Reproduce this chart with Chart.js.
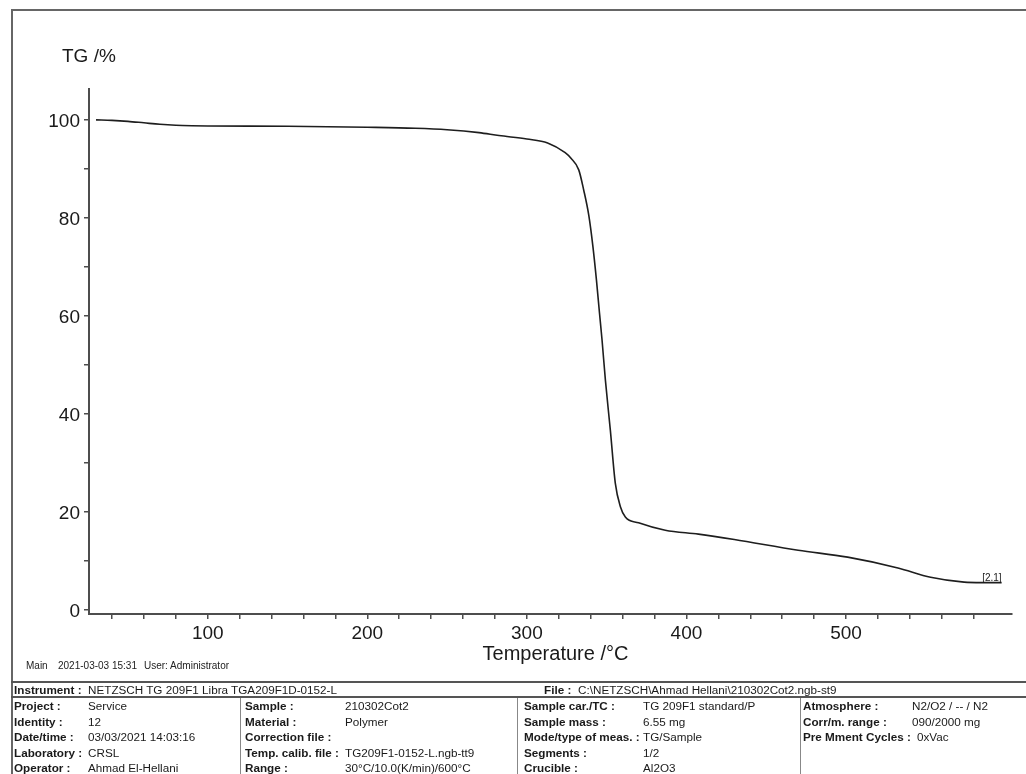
<!DOCTYPE html>
<html>
<head>
<meta charset="utf-8">
<script src="https://cdn.jsdelivr.net/npm/chart.js@4.4.0/dist/chart.umd.min.js"></script>
<style>
  html, body { margin: 0; padding: 0; background: #fff; }
  body { width: 1026px; height: 774px; position: relative; overflow: hidden;
         font-family: "Liberation Sans", Arial, sans-serif; color: #1a1a1a; }
  #tgChart { position: absolute; left: 0; top: 0; }
  .frame { position: absolute; left: 11px; top: 9px; width: 1030px; height: 780px;
           border-left: 2px solid #666; border-top: 2px solid #666; }
  .hline { position: absolute; left: 11px; width: 1015px; height: 2px; background: #555; }
  .vline { position: absolute; top: 698px; width: 1px; height: 76px; background: #888; }
  .txt { position: absolute; font-size: 11.7px; line-height: 14px; white-space: pre; }
  .lbl { font-weight: bold; }
  .footer { position: absolute; top: 660px; font-size: 10px; line-height: 12px; white-space: pre; color: #222; }
</style>
</head>
<body>
<canvas id="tgChart" width="1026" height="774"></canvas>
<div class="frame"></div>
<div class="hline" style="top:681px"></div>
<div class="hline" style="top:696px"></div>
<div class="vline" style="left:240px"></div>
<div class="vline" style="left:517px"></div>
<div class="vline" style="left:800px"></div>
<div id="meta"></div>
<script>
// TG curve
const temps = [30, 40, 50, 60, 70, 80, 90, 100, 150, 200, 230, 250, 270, 282.5, 300,
               313, 324, 327.5, 332.5, 335.6, 338.8, 341.4, 343.6, 345.5, 347.1,
               349.2, 352.3, 355.4, 358.6, 361.7, 370, 386.7, 407.5, 430, 470,
               501, 532.5, 553, 574, 585, 597.5];
const tgPercent = [100.0, 99.9, 99.7, 99.4, 99.1, 98.9, 98.8, 98.75, 98.7, 98.5, 98.3, 98.0, 97.4, 96.8, 96.1,
                   95.3, 93.3, 92.2, 89.8, 85.7, 80.5, 74.1, 67.3, 60.6, 55.1,
                   46.9, 36.7, 25.9, 21.1, 19.0, 17.8, 16.3, 15.5, 14.4, 12.2,
                   10.8, 8.6, 6.7, 5.7, 5.6, 5.6];

const xTicks = [40, 60, 80, 100, 120, 140, 160, 180, 200, 220, 240, 260, 280, 300,
                320, 340, 360, 380, 400, 420, 440, 460, 480, 500, 520, 540, 560, 580];
const xLabels = [100, 200, 300, 400, 500];
const yTicks = [0, 10, 20, 30, 40, 50, 60, 70, 80, 90, 100];
const yLabels = [0, 20, 40, 60, 80, 100];

const xTitle = 'Temperature /°C';
const yTitle = 'TG /%';
const segmentLabel = '[2.1]';

const footer = [['Main', 26], ['2021-03-03 15:31', 58], ['User: Administrator', 144]];

// info table: [label, value, labelX, valueX, rowY]
const instrumentRow = [['Instrument :', 'NETZSCH TG 209F1 Libra TGA209F1D-0152-L', 14, 88, 683],
                       ['File :', 'C:\\NETZSCH\\Ahmad Hellani\\210302Cot2.ngb-st9', 544, 578, 683]];
const col1 = [['Project :', 'Service'], ['Identity :', '12'], ['Date/time :', '03/03/2021 14:03:16'],
              ['Laboratory :', 'CRSL'], ['Operator :', 'Ahmad El-Hellani']];
const col2 = [['Sample :', '210302Cot2'], ['Material :', 'Polymer'], ['Correction file :', ''],
              ['Temp. calib. file :', 'TG209F1-0152-L.ngb-tt9'], ['Range :', '30°C/10.0(K/min)/600°C']];
const col3 = [['Sample car./TC :', 'TG 209F1 standard/P'], ['Sample mass :', '6.55 mg'],
              ['Mode/type of meas. :', 'TG/Sample'], ['Segments :', '1/2'], ['Crucible :', 'Al2O3']];
const col4 = [['Atmosphere :', 'N2/O2 / -- / N2'], ['Corr/m. range :', '090/2000 mg'],
              ['Pre Mment Cycles :', '0xVac']];
const rowTops = [699, 714.5, 730, 745.5, 761];

const meta = document.getElementById('meta');
function addText(text, x, y, bold, cls) {
    const d = document.createElement('div');
    d.className = cls || ('txt' + (bold ? ' lbl' : ''));
    d.style.left = x + 'px';
    if (y !== null) d.style.top = y + 'px';
    d.textContent = text;
    meta.appendChild(d);
}
footer.forEach(([t, x]) => addText(t, x, null, false, 'footer'));
instrumentRow.forEach(([l, v, lx, vx, y]) => { addText(l, lx, y, true); addText(v, vx, y, false); });
[[col1, 14, 88], [col2, 245, 345], [col3, 524, 643], [col4, 803, 912]].forEach(([col, lx, vx]) => {
    col.forEach(([l, v], i) => {
        addText(l, lx, rowTops[i], true);
        if (v) addText(v, vx, rowTops[i], false);
    });
});
// value of 'Pre Mment Cycles' sits a bit further right
meta.lastChild.style.left = '917px';

const fontFamily = '"Liberation Sans", Arial, sans-serif';
const axisColor = '#4d4d4d';

const annotations = {
    id: 'annotations',
    afterDraw(chart) {
        const { ctx, chartArea, scales } = chart;
        ctx.save();
        ctx.fillStyle = '#1a1a1a';
        ctx.textBaseline = 'alphabetic';
        ctx.font = '19px ' + fontFamily;
        ctx.textAlign = 'left';
        ctx.fillText(yTitle, chartArea.left - 27, chartArea.top - 27);
        ctx.font = '20px ' + fontFamily;
        ctx.textAlign = 'center';
        ctx.fillText(xTitle, (chartArea.left + chartArea.right) / 2 + 5, chartArea.bottom + 46);
        const last = temps.length - 1;
        const lx = scales.x.getPixelForValue(temps[last]);
        const ly = scales.y.getPixelForValue(tgPercent[last]);
        ctx.font = '10px ' + fontFamily;
        ctx.textAlign = 'right';
        ctx.fillText(segmentLabel, lx, ly - 2);
        ctx.restore();
    }
};

new Chart(document.getElementById('tgChart'), {
    type: 'line',
    data: {
        datasets: [{
            data: temps.map((t, i) => ({ x: t, y: tgPercent[i] })),
            borderColor: '#1e1e1e',
            borderWidth: 1.6,
            pointRadius: 0,
            fill: false,
            cubicInterpolationMode: 'monotone'
        }]
    },
    options: {
        responsive: false,
        animation: false,
        layout: { padding: { left: 0, top: 89, right: 14, bottom: 110 } },
        plugins: { legend: { display: false }, tooltip: { enabled: false } },
        scales: {
            x: {
                type: 'linear', min: 25.6, max: 604,
                afterBuildTicks: s => { s.ticks = xTicks.map(v => ({ value: v })); },
                afterFit: s => { s.height = 50; },
                ticks: {
                    autoSkip: false, maxRotation: 0, padding: 3, color: '#1a1a1a',
                    font: { size: 19, family: fontFamily },
                    callback: v => xLabels.includes(v) ? String(v) : ''
                },
                grid: { drawOnChartArea: false, drawTicks: true, tickLength: 5, color: axisColor, lineWidth: 1.5 },
                border: { color: axisColor, width: 2 }
            },
            y: {
                min: -0.8, max: 106.3,
                afterBuildTicks: s => { s.ticks = yTicks.map(v => ({ value: v })); },
                afterFit: s => { s.width = 89; },
                ticks: {
                    autoSkip: false, padding: 4, labelOffset: 2, color: '#1a1a1a',
                    font: { size: 19, family: fontFamily },
                    callback: v => yLabels.includes(v) ? String(v) : ''
                },
                grid: { drawOnChartArea: false, drawTicks: true, tickLength: 5, color: axisColor, lineWidth: 1.5 },
                border: { color: axisColor, width: 2 }
            }
        }
    },
    plugins: [annotations]
});
</script>
</body>
</html>
